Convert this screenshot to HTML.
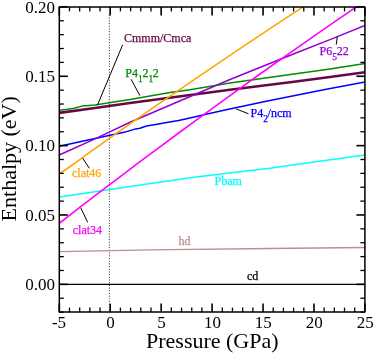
<!DOCTYPE html>
<html><head><meta charset="utf-8"><title>Enthalpy vs Pressure</title>
<style>html,body{margin:0;padding:0;background:#fff;}body{width:374px;height:353px;overflow:hidden;font-family:"Liberation Serif",serif;}</style>
</head><body>
<svg width="374" height="353" viewBox="0 0 374 353" style="display:block;will-change:transform">
<rect width="374" height="353" fill="#fff"/>
<defs><clipPath id="c"><rect x="59.30" y="6.90" width="305.60" height="305.20"/></clipPath></defs>
<line x1="109.4" y1="6.9" x2="109.4" y2="312.1" stroke="#000" stroke-width="0.9" stroke-dasharray="0.9 1.8"/>
<g clip-path="url(#c)" fill="none" stroke-linejoin="round">
<polyline points="50.0,284.4 370.0,284.4" stroke="#000" stroke-width="1.3"/>
<polyline points="59.3,251.7 150.0,249.9 170.0,249.6 270.0,248.5 365.0,247.5" stroke="rgb(188,143,143)" stroke-width="1.3"/>
<polyline points="59.3,196.9 130.0,186.6 170.0,180.8 190.0,177.8 250.0,170.5 270.0,168.2 294.0,164.7 365.0,155.0" stroke="rgb(0,255,255)" stroke-width="1.5"/>
<polyline points="59.3,146.3 95.0,138.5 125.0,132.1 135.7,128.9 140.0,128.2 146.4,126.0 154.2,124.7 168.3,122.3 178.5,120.6 190.0,117.9 205.0,114.4 225.0,110.0 245.0,105.8 265.0,101.6 285.0,97.5 305.0,93.5 325.0,89.6 345.0,85.8 365.0,82.1" stroke="rgb(0,0,255)" stroke-width="1.5"/>
<polyline points="59.3,110.2 66.0,109.4 74.3,108.2 82.8,105.9 95.0,105.0 130.0,99.6 170.0,92.4 190.0,89.7 230.0,83.0 294.0,74.1 330.0,69.0 365.0,63.5" stroke="rgb(0,139,0)" stroke-width="1.5"/>
<polyline points="59.3,112.9 95.0,108.0 130.0,103.0 230.0,89.7 294.0,81.8 330.0,77.0 365.0,72.2" stroke="rgb(103,7,72)" stroke-width="2.6"/>
<polyline points="59.3,155.0 95.0,138.9 130.0,122.3 230.0,79.5 294.0,53.8 330.0,39.6 365.0,25.4" stroke="rgb(148,0,211)" stroke-width="1.5"/>
<polyline points="59.3,173.7 68.0,168.0 76.0,162.4 90.0,152.2 120.0,130.8 150.0,109.9 180.0,89.3 210.0,68.8 240.0,48.6 270.0,28.7 300.0,8.9 320.0,-4.1" stroke="rgb(255,165,0)" stroke-width="1.6"/>
<polyline points="59.3,223.4 80.0,207.2 100.0,191.9 120.0,176.8 140.0,161.7 160.0,146.8 180.0,132.0 200.0,117.3 220.0,102.8 240.0,88.3 260.0,74.0 280.0,59.9 300.0,45.8 320.0,31.9 340.0,18.1 360.0,4.4 372.0,-3.7" stroke="rgb(255,0,255)" stroke-width="1.6"/>
</g>
<line x1="122.6" y1="44.9" x2="97.5" y2="105.0" stroke="#000" stroke-width="1.0"/>
<line x1="131.1" y1="79.3" x2="139.9" y2="95.6" stroke="#000" stroke-width="1.0"/>
<line x1="337.3" y1="36.8" x2="336.2" y2="44.6" stroke="#000" stroke-width="1.0"/>
<line x1="236.1" y1="108.9" x2="248.5" y2="113.8" stroke="#000" stroke-width="1.0"/>
<line x1="82.7" y1="158.2" x2="89.4" y2="168.3" stroke="#000" stroke-width="1.0"/>
<line x1="80.7" y1="207.8" x2="87.7" y2="222.4" stroke="#000" stroke-width="1.0"/>
<g stroke="#000">
<line x1="59.30" y1="312.10" x2="59.30" y2="303.60" stroke-width="1.6"/>
<line x1="59.30" y1="6.90" x2="59.30" y2="15.40" stroke-width="1.6"/>
<line x1="69.49" y1="312.10" x2="69.49" y2="307.60" stroke-width="1.3"/>
<line x1="69.49" y1="6.90" x2="69.49" y2="11.40" stroke-width="1.3"/>
<line x1="79.67" y1="312.10" x2="79.67" y2="307.60" stroke-width="1.3"/>
<line x1="79.67" y1="6.90" x2="79.67" y2="11.40" stroke-width="1.3"/>
<line x1="89.86" y1="312.10" x2="89.86" y2="307.60" stroke-width="1.3"/>
<line x1="89.86" y1="6.90" x2="89.86" y2="11.40" stroke-width="1.3"/>
<line x1="100.05" y1="312.10" x2="100.05" y2="307.60" stroke-width="1.3"/>
<line x1="100.05" y1="6.90" x2="100.05" y2="11.40" stroke-width="1.3"/>
<line x1="110.23" y1="312.10" x2="110.23" y2="303.60" stroke-width="1.6"/>
<line x1="110.23" y1="6.90" x2="110.23" y2="15.40" stroke-width="1.6"/>
<line x1="120.42" y1="312.10" x2="120.42" y2="307.60" stroke-width="1.3"/>
<line x1="120.42" y1="6.90" x2="120.42" y2="11.40" stroke-width="1.3"/>
<line x1="130.61" y1="312.10" x2="130.61" y2="307.60" stroke-width="1.3"/>
<line x1="130.61" y1="6.90" x2="130.61" y2="11.40" stroke-width="1.3"/>
<line x1="140.79" y1="312.10" x2="140.79" y2="307.60" stroke-width="1.3"/>
<line x1="140.79" y1="6.90" x2="140.79" y2="11.40" stroke-width="1.3"/>
<line x1="150.98" y1="312.10" x2="150.98" y2="307.60" stroke-width="1.3"/>
<line x1="150.98" y1="6.90" x2="150.98" y2="11.40" stroke-width="1.3"/>
<line x1="161.17" y1="312.10" x2="161.17" y2="303.60" stroke-width="1.6"/>
<line x1="161.17" y1="6.90" x2="161.17" y2="15.40" stroke-width="1.6"/>
<line x1="171.35" y1="312.10" x2="171.35" y2="307.60" stroke-width="1.3"/>
<line x1="171.35" y1="6.90" x2="171.35" y2="11.40" stroke-width="1.3"/>
<line x1="181.54" y1="312.10" x2="181.54" y2="307.60" stroke-width="1.3"/>
<line x1="181.54" y1="6.90" x2="181.54" y2="11.40" stroke-width="1.3"/>
<line x1="191.73" y1="312.10" x2="191.73" y2="307.60" stroke-width="1.3"/>
<line x1="191.73" y1="6.90" x2="191.73" y2="11.40" stroke-width="1.3"/>
<line x1="201.91" y1="312.10" x2="201.91" y2="307.60" stroke-width="1.3"/>
<line x1="201.91" y1="6.90" x2="201.91" y2="11.40" stroke-width="1.3"/>
<line x1="212.10" y1="312.10" x2="212.10" y2="303.60" stroke-width="1.6"/>
<line x1="212.10" y1="6.90" x2="212.10" y2="15.40" stroke-width="1.6"/>
<line x1="222.29" y1="312.10" x2="222.29" y2="307.60" stroke-width="1.3"/>
<line x1="222.29" y1="6.90" x2="222.29" y2="11.40" stroke-width="1.3"/>
<line x1="232.47" y1="312.10" x2="232.47" y2="307.60" stroke-width="1.3"/>
<line x1="232.47" y1="6.90" x2="232.47" y2="11.40" stroke-width="1.3"/>
<line x1="242.66" y1="312.10" x2="242.66" y2="307.60" stroke-width="1.3"/>
<line x1="242.66" y1="6.90" x2="242.66" y2="11.40" stroke-width="1.3"/>
<line x1="252.85" y1="312.10" x2="252.85" y2="307.60" stroke-width="1.3"/>
<line x1="252.85" y1="6.90" x2="252.85" y2="11.40" stroke-width="1.3"/>
<line x1="263.03" y1="312.10" x2="263.03" y2="303.60" stroke-width="1.6"/>
<line x1="263.03" y1="6.90" x2="263.03" y2="15.40" stroke-width="1.6"/>
<line x1="273.22" y1="312.10" x2="273.22" y2="307.60" stroke-width="1.3"/>
<line x1="273.22" y1="6.90" x2="273.22" y2="11.40" stroke-width="1.3"/>
<line x1="283.41" y1="312.10" x2="283.41" y2="307.60" stroke-width="1.3"/>
<line x1="283.41" y1="6.90" x2="283.41" y2="11.40" stroke-width="1.3"/>
<line x1="293.59" y1="312.10" x2="293.59" y2="307.60" stroke-width="1.3"/>
<line x1="293.59" y1="6.90" x2="293.59" y2="11.40" stroke-width="1.3"/>
<line x1="303.78" y1="312.10" x2="303.78" y2="307.60" stroke-width="1.3"/>
<line x1="303.78" y1="6.90" x2="303.78" y2="11.40" stroke-width="1.3"/>
<line x1="313.97" y1="312.10" x2="313.97" y2="303.60" stroke-width="1.6"/>
<line x1="313.97" y1="6.90" x2="313.97" y2="15.40" stroke-width="1.6"/>
<line x1="324.15" y1="312.10" x2="324.15" y2="307.60" stroke-width="1.3"/>
<line x1="324.15" y1="6.90" x2="324.15" y2="11.40" stroke-width="1.3"/>
<line x1="334.34" y1="312.10" x2="334.34" y2="307.60" stroke-width="1.3"/>
<line x1="334.34" y1="6.90" x2="334.34" y2="11.40" stroke-width="1.3"/>
<line x1="344.53" y1="312.10" x2="344.53" y2="307.60" stroke-width="1.3"/>
<line x1="344.53" y1="6.90" x2="344.53" y2="11.40" stroke-width="1.3"/>
<line x1="354.71" y1="312.10" x2="354.71" y2="307.60" stroke-width="1.3"/>
<line x1="354.71" y1="6.90" x2="354.71" y2="11.40" stroke-width="1.3"/>
<line x1="364.90" y1="312.10" x2="364.90" y2="303.60" stroke-width="1.6"/>
<line x1="364.90" y1="6.90" x2="364.90" y2="15.40" stroke-width="1.6"/>
<line x1="59.30" y1="312.10" x2="63.80" y2="312.10" stroke-width="1.3"/>
<line x1="364.90" y1="312.10" x2="360.40" y2="312.10" stroke-width="1.3"/>
<line x1="59.30" y1="298.23" x2="63.80" y2="298.23" stroke-width="1.3"/>
<line x1="364.90" y1="298.23" x2="360.40" y2="298.23" stroke-width="1.3"/>
<line x1="59.30" y1="284.35" x2="67.80" y2="284.35" stroke-width="1.6"/>
<line x1="364.90" y1="284.35" x2="356.40" y2="284.35" stroke-width="1.6"/>
<line x1="59.30" y1="270.48" x2="63.80" y2="270.48" stroke-width="1.3"/>
<line x1="364.90" y1="270.48" x2="360.40" y2="270.48" stroke-width="1.3"/>
<line x1="59.30" y1="256.61" x2="63.80" y2="256.61" stroke-width="1.3"/>
<line x1="364.90" y1="256.61" x2="360.40" y2="256.61" stroke-width="1.3"/>
<line x1="59.30" y1="242.74" x2="63.80" y2="242.74" stroke-width="1.3"/>
<line x1="364.90" y1="242.74" x2="360.40" y2="242.74" stroke-width="1.3"/>
<line x1="59.30" y1="228.86" x2="63.80" y2="228.86" stroke-width="1.3"/>
<line x1="364.90" y1="228.86" x2="360.40" y2="228.86" stroke-width="1.3"/>
<line x1="59.30" y1="214.99" x2="67.80" y2="214.99" stroke-width="1.6"/>
<line x1="364.90" y1="214.99" x2="356.40" y2="214.99" stroke-width="1.6"/>
<line x1="59.30" y1="201.12" x2="63.80" y2="201.12" stroke-width="1.3"/>
<line x1="364.90" y1="201.12" x2="360.40" y2="201.12" stroke-width="1.3"/>
<line x1="59.30" y1="187.25" x2="63.80" y2="187.25" stroke-width="1.3"/>
<line x1="364.90" y1="187.25" x2="360.40" y2="187.25" stroke-width="1.3"/>
<line x1="59.30" y1="173.37" x2="63.80" y2="173.37" stroke-width="1.3"/>
<line x1="364.90" y1="173.37" x2="360.40" y2="173.37" stroke-width="1.3"/>
<line x1="59.30" y1="159.50" x2="63.80" y2="159.50" stroke-width="1.3"/>
<line x1="364.90" y1="159.50" x2="360.40" y2="159.50" stroke-width="1.3"/>
<line x1="59.30" y1="145.63" x2="67.80" y2="145.63" stroke-width="1.6"/>
<line x1="364.90" y1="145.63" x2="356.40" y2="145.63" stroke-width="1.6"/>
<line x1="59.30" y1="131.75" x2="63.80" y2="131.75" stroke-width="1.3"/>
<line x1="364.90" y1="131.75" x2="360.40" y2="131.75" stroke-width="1.3"/>
<line x1="59.30" y1="117.88" x2="63.80" y2="117.88" stroke-width="1.3"/>
<line x1="364.90" y1="117.88" x2="360.40" y2="117.88" stroke-width="1.3"/>
<line x1="59.30" y1="104.01" x2="63.80" y2="104.01" stroke-width="1.3"/>
<line x1="364.90" y1="104.01" x2="360.40" y2="104.01" stroke-width="1.3"/>
<line x1="59.30" y1="90.14" x2="63.80" y2="90.14" stroke-width="1.3"/>
<line x1="364.90" y1="90.14" x2="360.40" y2="90.14" stroke-width="1.3"/>
<line x1="59.30" y1="76.26" x2="67.80" y2="76.26" stroke-width="1.6"/>
<line x1="364.90" y1="76.26" x2="356.40" y2="76.26" stroke-width="1.6"/>
<line x1="59.30" y1="62.39" x2="63.80" y2="62.39" stroke-width="1.3"/>
<line x1="364.90" y1="62.39" x2="360.40" y2="62.39" stroke-width="1.3"/>
<line x1="59.30" y1="48.52" x2="63.80" y2="48.52" stroke-width="1.3"/>
<line x1="364.90" y1="48.52" x2="360.40" y2="48.52" stroke-width="1.3"/>
<line x1="59.30" y1="34.65" x2="63.80" y2="34.65" stroke-width="1.3"/>
<line x1="364.90" y1="34.65" x2="360.40" y2="34.65" stroke-width="1.3"/>
<line x1="59.30" y1="20.77" x2="63.80" y2="20.77" stroke-width="1.3"/>
<line x1="364.90" y1="20.77" x2="360.40" y2="20.77" stroke-width="1.3"/>
<line x1="59.30" y1="6.90" x2="67.80" y2="6.90" stroke-width="1.6"/>
<line x1="364.90" y1="6.90" x2="356.40" y2="6.90" stroke-width="1.6"/>
</g>
<rect x="59.30" y="6.90" width="305.60" height="305.20" fill="none" stroke="#000" stroke-width="1.5" stroke-linejoin="round"/>
<g font-family="'Liberation Serif', serif" fill="#000">
<text x="54.9" y="290.2" font-size="17" text-anchor="end">0.00</text>
<text x="54.9" y="220.8" font-size="17" text-anchor="end">0.05</text>
<text x="54.9" y="151.4" font-size="17" text-anchor="end">0.10</text>
<text x="54.9" y="82.1" font-size="17" text-anchor="end">0.15</text>
<text x="54.9" y="12.7" font-size="17" text-anchor="end">0.20</text>
<text x="59.0" y="328.2" font-size="17" text-anchor="middle">-5</text>
<text x="110.5" y="328.2" font-size="17" text-anchor="middle">0</text>
<text x="161.5" y="328.2" font-size="17" text-anchor="middle">5</text>
<text x="212.4" y="328.2" font-size="17" text-anchor="middle">10</text>
<text x="263.3" y="328.2" font-size="17" text-anchor="middle">15</text>
<text x="314.3" y="328.2" font-size="17" text-anchor="middle">20</text>
<text x="365.2" y="328.2" font-size="17" text-anchor="middle">25</text>
<text x="212.3" y="347.8" font-size="22" text-anchor="middle">Pressure (GPa)</text>
<text transform="translate(15.8,158.8) rotate(-90)" font-size="22" text-anchor="middle">Enthalpy (eV)</text>
<text x="124.0" y="42.2" font-size="12" fill="rgb(103,7,72)" stroke="rgb(103,7,72)" stroke-width="0.25">Cmmm/Cmca</text>
<text x="125.3" y="76.9" font-size="12" fill="rgb(0,139,0)" stroke="rgb(0,139,0)" stroke-width="0.25">P4<tspan font-size="9.5" dy="5">1</tspan><tspan dy="-5" dx="-0.35" font-size="12">2</tspan><tspan font-size="9.5" dy="5">1</tspan><tspan dy="-5" dx="-0.35" font-size="12">2</tspan></text>
<text x="319.6" y="54.8" font-size="12" fill="rgb(148,0,211)" stroke="rgb(148,0,211)" stroke-width="0.25">P6<tspan font-size="9.5" dy="5">5</tspan><tspan dy="-5" dx="-0.35" font-size="12">22</tspan></text>
<text x="250.5" y="116.8" font-size="12" fill="rgb(0,0,255)" stroke="rgb(0,0,255)" stroke-width="0.25">P4<tspan font-size="9.5" dy="5">2</tspan><tspan dy="-5" dx="-0.35" font-size="12">/ncm</tspan></text>
<text x="72.0" y="177.1" font-size="12" fill="rgb(255,165,0)" stroke="rgb(255,165,0)" stroke-width="0.25">clat46</text>
<text x="214.6" y="185.4" font-size="12" fill="rgb(0,255,255)" stroke="rgb(0,255,255)" stroke-width="0.25">Pbam</text>
<text x="72.8" y="233.6" font-size="12" fill="rgb(255,0,255)" stroke="rgb(255,0,255)" stroke-width="0.25">clat34</text>
<text x="178.4" y="244.5" font-size="12" fill="rgb(188,143,143)" stroke="rgb(188,143,143)" stroke-width="0.25">hd</text>
<text x="247.0" y="279.8" font-size="12" fill="#000" stroke="#000" stroke-width="0.25">cd</text>
</g>
</svg>
</body></html>
